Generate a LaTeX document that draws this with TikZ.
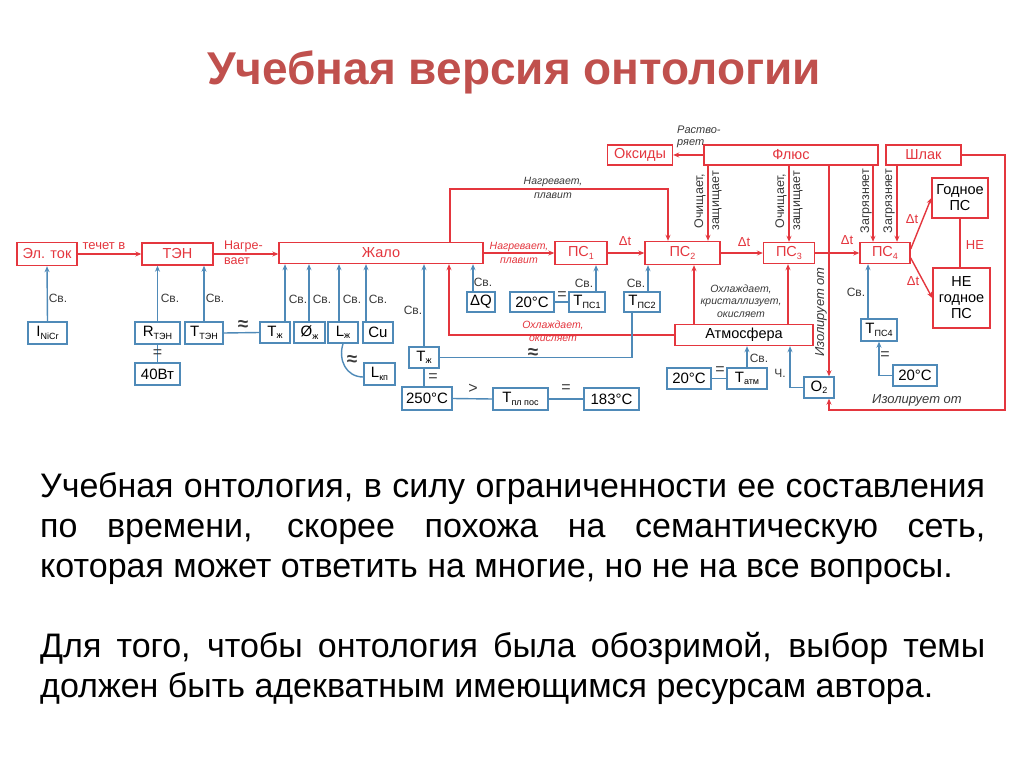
\documentclass[tikz,border=0pt]{standalone}
\usepackage{fontspec}
\setmainfont{Liberation Sans}
\usetikzlibrary{arrows.meta,calc}
\definecolor{rd}{HTML}{E4363E}
\definecolor{bl}{HTML}{4F8AB8}
\definecolor{ttl}{HTML}{C0504D}
\definecolor{gy}{HTML}{3A3A3A}
\newcommand{\sbs}[1]{\raisebox{-2.5pt}{\fontsize{9}{9}\selectfont #1}}
\begin{document}
\begin{tikzpicture}[x=1pt,y=-1pt,
 rbox/.style={draw=rd,line width=1.4pt,text=rd,inner sep=0pt,align=center,font=\fontsize{14.5}{16}\selectfont},
 kbox/.style={rbox,text=black},
 bbox/.style={draw=bl,line width=1.4pt,text=black,inner sep=0pt,font=\fontsize{15}{16}\selectfont},
 rarr/.style={draw=rd,line width=1.4pt,-{Stealth[length=6pt,width=5pt]}},
 rline/.style={draw=rd,line width=1.4pt},
 barr/.style={draw=bl,line width=1.4pt,-{Stealth[length=6pt,width=5pt]}},
 bline/.style={draw=bl,line width=1.4pt},
 sv/.style={font=\fontsize{12}{13}\selectfont,text=gy,inner sep=0pt},
 eqs/.style={font=\fontsize{16}{16}\selectfont,text=gy,inner sep=0pt},
 apx/.style={font=\bfseries\fontsize{19}{19}\selectfont,text=gy,inner sep=0pt},
 ilab/.style={font=\itshape\fontsize{10.5}{12.5}\selectfont,text=gy,align=center,inner sep=0pt},
 rilab/.style={font=\itshape\fontsize{10.5}{13}\selectfont,text=rd,align=center,inner sep=0pt},
 rlab/.style={font=\fontsize{13}{14.5}\selectfont,text=rd,inner sep=0pt},
 vlab/.style={font=\fontsize{12.5}{14}\selectfont,text=gy,align=center,inner sep=0pt,rotate=90},
 body/.style={anchor=base west,inner sep=0pt,font=\fontsize{34}{40}\selectfont,text=black},
]
\useasboundingbox (0,0) rectangle (1024,767);
\fill[white] (0,0) rectangle (1024,767);

% title
\node[font=\bfseries\fontsize{46}{50}\selectfont,text=ttl] (title) at (514,72) {Учебная версия онтологии};

% red boxes
\node[rbox,minimum width=60pt,minimum height=23pt] (eltok) at (47,254) {Эл. ток};
\node[rbox,minimum width=71pt,minimum height=22pt] (ten) at (177.5,254) {ТЭН};
\node[rbox,minimum width=204pt,minimum height=21pt] (zhalo) at (381,253) {Жало};
\node[rbox,minimum width=52pt,minimum height=23pt] (ps1) at (581,253) {ПС\sbs{1}};
\node[rbox,minimum width=75pt,minimum height=23pt] (ps2) at (682.5,253) {ПС\sbs{2}};
\node[rbox,minimum width=51pt,minimum height=21pt] (ps3) at (789,253) {ПС\sbs{3}};
\node[rbox,minimum width=50pt,minimum height=21pt] (ps4) at (885,253) {ПС\sbs{4}};
\node[rbox,minimum width=65pt,minimum height=20pt] (oks) at (640,155) {Оксиды};
\node[rbox,minimum width=174pt,minimum height=20pt] (flux) at (791,155) {Флюс};
\node[rbox,minimum width=75pt,minimum height=20pt] (shlak) at (923.5,155) {Шлак};
\node[kbox,minimum width=56pt,minimum height=40pt] (good) at (960,198) {Годное\\ПС};
\node[kbox,minimum width=57pt,minimum height=60pt] (bad) at (961.5,298) {НЕ\\годное\\ПС};
\node[kbox,minimum width=138pt,minimum height=21pt] (atm) at (744,335) {Атмосфера};

% blue boxes
\node[bbox,minimum width=39pt,minimum height=22pt] (inicr) at (47.5,333) {I\sbs{NiCr}};
\node[bbox,minimum width=45pt,minimum height=22pt] (rten) at (157.5,333) {R\sbs{ТЭН}};
\node[bbox,minimum width=38pt,minimum height=22pt] (tten) at (204,333) {T\sbs{ТЭН}};
\node[bbox,minimum width=45pt,minimum height=22pt] (w40) at (157.5,374) {40Вт};
\node[bbox,minimum width=30pt,minimum height=21pt] (tzh1) at (275,332.5) {T\sbs{ж}};
\node[bbox,minimum width=31pt,minimum height=21pt] (dzh) at (309.5,332.5) {Ø\sbs{ж}};
\node[bbox,minimum width=30pt,minimum height=21pt] (lzh) at (343,332.5) {L\sbs{ж}};
\node[bbox,minimum width=30pt,minimum height=21pt] (cu) at (378,332.5) {Cu};
\node[bbox,minimum width=31pt,minimum height=22pt] (lkp) at (379.5,374) {L\sbs{кп}};
\node[bbox,minimum width=30pt,minimum height=21pt] (tzh2) at (424,357.5) {T\sbs{ж}};
\node[bbox,minimum width=50pt,minimum height=23pt] (c250) at (427,398.5) {250°C};
\node[bbox,minimum width=55pt,minimum height=22pt] (tpl) at (520.5,399) {T\sbs{пл пос}};
\node[bbox,minimum width=55pt,minimum height=22pt] (c183) at (611.5,399) {183°C};
\node[bbox,minimum width=28pt,minimum height=20pt] (dq) at (481,302) {ΔQ};
\node[bbox,minimum width=44pt,minimum height=20pt] (c20a) at (532,302) {20°C};
\node[bbox,minimum width=36pt,minimum height=20pt] (tps1) at (587,302) {T\sbs{ПС1}};
\node[bbox,minimum width=36pt,minimum height=20pt] (tps2) at (642,302) {T\sbs{ПС2}};
\node[bbox,minimum width=44pt,minimum height=21pt] (c20b) at (689,378.5) {20°C};
\node[bbox,minimum width=40pt,minimum height=21pt] (tatm) at (747,378.5) {T\sbs{атм}};
\node[bbox,minimum width=30pt,minimum height=21pt] (o2) at (819,387.5) {O\sbs{2}};
\node[bbox,minimum width=36pt,minimum height=22pt] (tps4) at (879,330) {T\sbs{ПС4}};
\node[bbox,minimum width=44pt,minimum height=21pt] (c20c) at (915,375.5) {20°C};

% red connectors
\draw[rarr] (eltok.east) -- (ten.west);
\draw[rarr] (ten.east) -- (ten.east -| zhalo.west);
\draw[rarr] (zhalo.east) -- (ps1.west);
\draw[rarr] (450,0 |- zhalo.north) -- (450,189) -- (668,189) -- (668,0 |- ps2.north);
\draw[rarr] (ps1.east) -- (ps2.west);
\draw[rarr] (ps2.east) -- (ps3.west);
\draw[rarr] (ps3.east) -- (ps4.west);
\draw[rarr] ($(ps4.east)+(0,-4)$) -- (good.west);
\draw[rarr] ($(ps4.east)+(0,5)$) -- (bad.west);
\draw[rline] (good.south) -- (good.south |- bad.north);
\draw[rarr] (flux.west) -- (oks.east);
\draw[rarr] (708,0 |- flux.south) -- (708,0 |- ps2.north);
\draw[rarr] (ps3.north |- flux.south) -- (ps3.north);
\draw[rarr] (829,0 |- flux.south) -- (829,0 |- o2.north);
\draw[rarr] (873,0 |- flux.south) -- (873,0 |- ps4.north);
\draw[rarr] (897,0 |- shlak.south) -- (897,0 |- ps4.north);
\draw[rarr] (694,0 |- atm.north) -- (694,0 |- ps2.south);
\draw[rarr] (788,0 |- atm.north) -- (788,0 |- ps3.south);
\draw[rarr] (atm.west) -| (449,0 |- zhalo.south);
\draw[rarr] (shlak.east) -| (1005,410) -| (829,0 |- o2.south);

% blue connectors
\draw[barr] (inicr.north) -- (eltok.south);
\draw[barr] (rten.north) -- (rten.north |- ten.south);
\draw[barr] (tten.north) -- (tten.north |- ten.south);
\draw[bline] (rten.south) -- (w40.north);
\draw[bline] (tten.east) -- (tzh1.west);
\draw[barr] (285,0 |- tzh1.north) -- (285,0 |- zhalo.south);
\draw[barr] (309,0 |- dzh.north) -- (309,0 |- zhalo.south);
\draw[barr] (339,0 |- lzh.north) -- (339,0 |- zhalo.south);
\draw[barr] (366,0 |- cu.north) -- (366,0 |- zhalo.south);
\draw[bline] (lzh.south) .. controls (338,360) and (346,377) .. ($(lkp.west)+(0,3)$);
\draw[barr] (tzh2.north) -- (tzh2.north |- zhalo.south);
\draw[bline] (tzh2.south) -- (tzh2.south |- c250.north);
\draw[bline] (tzh2.east) -| (632,0 |- tps2.south);
\draw[bline] (c250.east) -- (tpl.west);
\draw[bline] (tpl.east) -- (c183.west);
\draw[barr] (473,0 |- dq.north) -- (473,0 |- zhalo.south);
\draw[bline] (c20a.east) -- (tps1.west);
\draw[barr] (596,0 |- tps1.north) -- (596,0 |- ps1.south);
\draw[barr] (648,0 |- tps2.north) -- (648,0 |- ps2.south);
\draw[bline] (c20b.east) -- (tatm.west);
\draw[barr] (tatm.north) -- (tatm.north |- atm.south);
\draw[barr] (o2.west) -| (790,0 |- atm.south);
\draw[barr] (868,0 |- tps4.north) -- (868,0 |- ps4.south);
\draw[barr] (c20c.west) -| (tps4.south);

% labels
\node[rlab] (lb1) at (104,246) {течет в};
\node[rlab,anchor=west,align=left,font=\fontsize{12.5}{15}\selectfont] (lb2) at (224,253) {Нагре-\\вает};
\node[rilab,font=\itshape\fontsize{10.5}{14}\selectfont] (lb3) at (519,253) {Нагревает,\\плавит};
\node[ilab,font=\itshape\fontsize{10.5}{14}\selectfont] (lb4) at (553,188) {Нагревает,\\плавит};
\node[rilab] (lb5) at (553,331) {Охлаждает,\\окисляет};
\node[ilab] (lb6) at (741,301) {Охлаждает,\\кристаллизует,\\окисляет};
\node[ilab,anchor=west,align=left,font=\itshape\fontsize{11}{11.5}\selectfont] (lb7) at (677,137) {Раство-\\ряет};
\node[vlab,font=\fontsize{12.5}{16}\selectfont] (lb8) at (708,201) {Очищает,\\защищает};
\node[vlab,font=\fontsize{12.5}{16}\selectfont] (lb9) at (789,201) {Очищает,\\защищает};
\node[vlab] (lb10) at (866,201) {Загрязняет};
\node[vlab] (lb11) at (889,201) {Загрязняет};
\node[vlab,font=\itshape\fontsize{13}{14}\selectfont] (lb12) at (821,312) {Изолирует от};
\node[ilab,font=\itshape\fontsize{13}{14}\selectfont] (lb13) at (917,400) {Изолирует от};
\node[rlab] (dt1) at (625,241) {Δt};
\node[rlab] (dt2) at (744,242) {Δt};
\node[rlab] (dt3) at (847,240) {Δt};
\node[rlab] (dt4) at (912,219) {Δt};
\node[rlab] (dt5) at (913,281) {Δt};
\node[rlab] (ne) at (975,245) {НЕ};

\node[sv] (s1) at (58,298) {Св.};
\node[sv] (s2) at (170,298) {Св.};
\node[sv] (s3) at (215,298) {Св.};
\node[sv] (s4) at (298,299) {Св.};
\node[sv] (s5) at (322,299) {Св.};
\node[sv] (s6) at (352,299) {Св.};
\node[sv] (s7) at (378,299) {Св.};
\node[sv] (s8) at (413,310) {Св.};
\node[sv] (s9) at (483,282) {Св.};
\node[sv] (s10) at (584,283) {Св.};
\node[sv] (s11) at (636,283) {Св.};
\node[sv] (s12) at (759,358) {Св.};
\node[sv] (s13) at (856,292) {Св.};
\node[sv] (ch) at (780,373) {Ч.};
\node[eqs] (e1) at (157.5,354) {=};
\node[eqs] (e2) at (433,378) {=};
\node[eqs] (e3) at (562,296) {=};
\node[eqs] (e4) at (566,389) {=};
\node[eqs] (e5) at (720,371) {=};
\node[eqs] (e6) at (885,356) {=};
\node[eqs] (gt) at (473,389) {>};
\node[apx] (a1) at (243,325) {≈};
\node[apx] (a2) at (352,360) {≈};
\node[apx] (a3) at (533,353) {≈};

% body text
\node[body] (t1) at (40,497) {\makebox[945pt][s]{Учебная онтология, в силу ограниченности ее составления}};
\node[body] (t2) at (40,537) {\makebox[945pt][s]{по времени, скорее похожа на семантическую сеть,}};
\node[body] (t3) at (40,577) {которая может ответить на многие, но не на все вопросы.};
\node[body] (t4) at (40,657) {\makebox[945pt][s]{Для того, чтобы онтология была обозримой, выбор темы}};
\node[body] (t5) at (40,697) {должен быть адекватным имеющимся ресурсам автора.};
\end{tikzpicture}
\end{document}
